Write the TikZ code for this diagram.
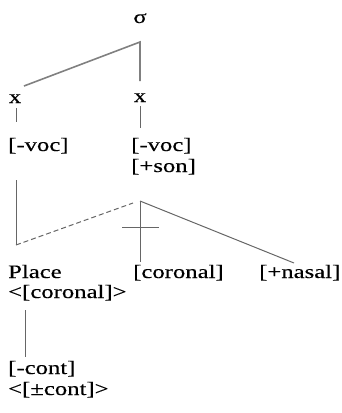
\documentclass[tikz,border=0pt]{standalone}
\usepackage{fontspec}
\setmainfont{Liberation Serif}[FakeStretch=1.3,FakeBold=0.3]
\begin{document}
\begin{tikzpicture}[x=1pt,y=-1pt,
  seg/.style={inner sep=0pt,anchor=base west,font=\fontsize{19}{21}\selectfont},
  assoc/.style={gray!80!black,line width=1pt},
  top/.style={gray,line width=1.6pt}]
  \useasboundingbox (0,0) rectangle (342,413);
  % tiers
  \node[seg,anchor=base] (sig) at (140,23) {σ};
  \node[seg,anchor=base] (xl) at (15,103) {x};
  \node[seg,anchor=base] (xr) at (140,102) {x};
  \node[seg] (vocl) at (8,151) {[-voc]};
  \node[seg] (vocr) at (131,151) {[-voc]};
  \node[seg] (son) at (131,172) {[+son]};
  \node[seg] (place) at (8,278) {Place};
  \node[seg] (cor) at (133,278) {[coronal]};
  \node[seg] (nas) at (259,278) {[+nasal]};
  \node[seg] (corx) at (8,298) {<[coronal]>};
  \node[seg] (cont) at (8,374) {[-cont]};
  \node[seg] (contx) at (8,395) {<[±cont]>};
  % attachment points
  \coordinate (S) at (140,42);
  \coordinate (XL) at (24,86);
  \coordinate (XR) at (140,81);
  \coordinate (R) at (140,201);
  \coordinate (P) at (16,245);
  % skeleton
  \draw[top] (XL)--(S)--(XR);
  \draw[assoc] (16,108)--(16,122);
  \draw[assoc] (140,106)--(140,128);
  \draw[assoc] (16,180)--(P);
  % place node links
  \draw[assoc,dashed,dash pattern=on 5pt off 3pt] (P)--(133,203);
  \draw[assoc] (R)--(140,262);
  \draw[assoc] (122,227)--(159,227);
  \draw[assoc] (R)--(294,263);
  \draw[assoc] (25,310)--(25,357);
\end{tikzpicture}
\end{document}
